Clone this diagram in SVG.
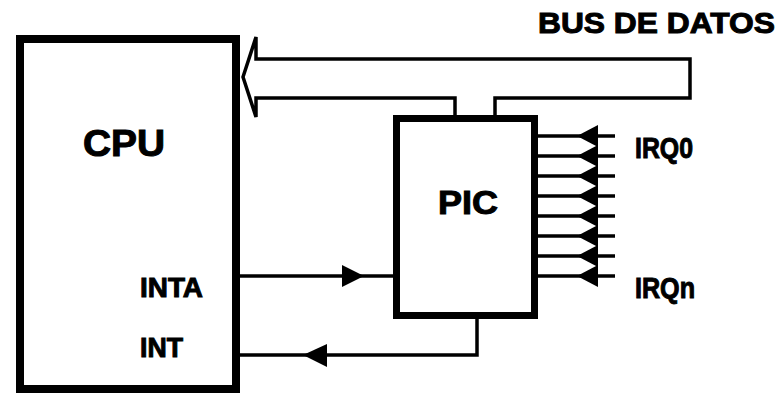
<svg xmlns="http://www.w3.org/2000/svg" width="778" height="395" viewBox="0 0 778 395">
<style>
  .box{fill:#fff;stroke:#000;}
  .ln{fill:none;stroke:#000;stroke-width:3.5;}
  .bus{fill:#fff;stroke:#000;stroke-width:3.5;stroke-linejoin:miter;}
  .ah{fill:#000;stroke:none;}
  .t{font-family:"Liberation Sans",Arial,sans-serif;font-weight:bold;fill:#000;stroke:#000;stroke-width:1;}
</style>
<rect width="778" height="395" fill="#fff"/>
<g id="connectors">
  <path class="bus" d="M243,77 L256,37 L256,59 L690,59 L690,98 L495,98 L495,117 L455,117 L455,98 L256,98 L256,117 Z"/>
  <g id="irq-lines">
    <line class="ln" x1="537" y1="136" x2="615" y2="136" stroke-width="3"/>
    <line class="ln" x1="537" y1="156" x2="615" y2="156" stroke-width="3"/>
    <line class="ln" x1="537" y1="176" x2="615" y2="176" stroke-width="3"/>
    <line class="ln" x1="537" y1="196" x2="615" y2="196" stroke-width="3"/>
    <line class="ln" x1="537" y1="216" x2="615" y2="216" stroke-width="3"/>
    <line class="ln" x1="537" y1="236" x2="615" y2="236" stroke-width="3"/>
    <line class="ln" x1="537" y1="256" x2="615" y2="256" stroke-width="3"/>
    <line class="ln" x1="537" y1="276" x2="615" y2="276" stroke-width="3"/>
    <polygon class="ah" points="598,125 598,147 577,136"/>
    <polygon class="ah" points="598,145 598,167 577,156"/>
    <polygon class="ah" points="598,165 598,187 577,176"/>
    <polygon class="ah" points="598,185 598,207 577,196"/>
    <polygon class="ah" points="598,205 598,227 577,216"/>
    <polygon class="ah" points="598,225 598,247 577,236"/>
    <polygon class="ah" points="598,245 598,267 577,256"/>
    <polygon class="ah" points="598,265 598,287 577,276"/>
  </g>
  <g id="inta">
    <line class="ln" x1="240" y1="276" x2="394" y2="276"/>
    <polygon class="ah" points="342,265 342,287 364,276"/>
  </g>
  <g id="int">
    <path class="ln" d="M477,318 L477,355 L240,355"/>
    <polygon class="ah" points="327,344 327,367 303,355"/>
  </g>
</g>
<g id="cpu">
  <rect class="box" x="20" y="39" width="216" height="350" stroke-width="8"/>
  <text class="t" x="83" y="156" font-size="36" textLength="82" lengthAdjust="spacingAndGlyphs">CPU</text>
  <text class="t" x="140" y="297" font-size="28" textLength="63" lengthAdjust="spacingAndGlyphs">INTA</text>
  <text class="t" x="140" y="357" font-size="28" textLength="43" lengthAdjust="spacingAndGlyphs">INT</text>
</g>
<g id="pic">
  <rect class="box" x="396.5" y="118.5" width="138" height="197" stroke-width="7"/>
  <text class="t" x="438" y="214" font-size="33" textLength="60" lengthAdjust="spacingAndGlyphs">PIC</text>
</g>
<g id="labels">
  <text class="t" x="538" y="33" font-size="29" textLength="237" lengthAdjust="spacingAndGlyphs">BUS DE DATOS</text>
  <text class="t" x="635" y="158" font-size="29" textLength="58" lengthAdjust="spacingAndGlyphs">IRQ0</text>
  <text class="t" x="635" y="298" font-size="29" textLength="60" lengthAdjust="spacingAndGlyphs">IRQn</text>
</g>
</svg>
